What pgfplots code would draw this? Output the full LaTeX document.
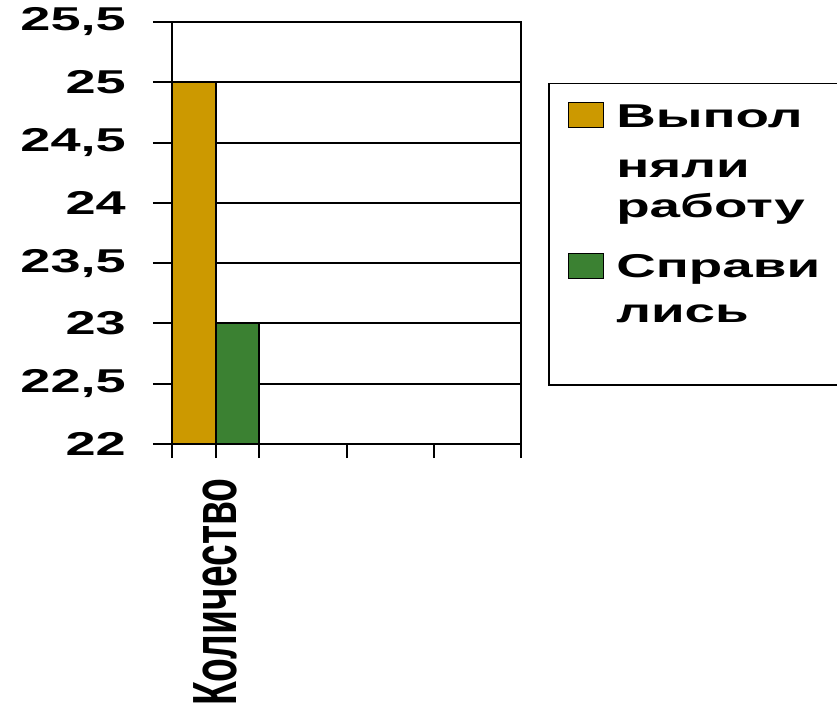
\documentclass[border=0pt]{standalone}
\usepackage{pgfplots}
\pgfplotsset{compat=1.18}
\usepackage{fontspec}
\setmainfont{Liberation Sans}
\usepackage{graphicx}

\definecolor{barorange}{HTML}{CC9900}
\definecolor{bargreen}{HTML}{3B8132}

% one legend line: stretched text with a strut of the given height
\newcommand{\lt}[2]{\scalebox{1.66}[1]{#1}\rule{0pt}{#2}}

\begin{document}
\begin{tikzpicture}
\begin{axis}[
    at={(0,0)}, anchor=south west,
    scale only axis,
    width=349pt, height=422pt,
    xmin=0, xmax=4,
    ymin=22, ymax=25.5,
    ytick={22,22.5,...,25.5},
    xtick={0,1,2,3,4},
    xticklabels={},
    extra x ticks={0.5},
    extra x tick labels={\scalebox{1}[1.6]{Количество}},
    extra x tick style={major tick length=0pt, grid=none,
        xticklabel style={yshift=-31pt, rotate=90, anchor=east,
            font=\fontsize{39}{44}\selectfont\bfseries}},
    xtick pos=bottom, ytick pos=left,
    tick align=outside,
    major tick length=19pt,
    xtick style={/pgfplots/major tick length=14pt},
    tick style={black, line width=2pt},
    axis line style={black, line width=2pt},
    ymajorgrids,
    grid style={black, line width=2pt},
    /pgf/number format/assume math mode=true,
    /pgf/number format/use comma,
    /pgf/number format/1000 sep={},
    yticklabel={\scalebox{1.64}[1]{\pgfmathprintnumber{\tick}}},
    yticklabel style={font=\fontsize{33}{38}\selectfont\bfseries, inner sep=0pt, xshift=-27pt},
    legend style={at={(1.0774,0.8555)}, anchor=north west, draw=black,
        line width=1.5pt, inner xsep=19pt, inner ysep=6pt,
        font=\fontsize{33}{38}\selectfont\bfseries,
        row sep=0pt, column sep=12pt, nodes={inner sep=0pt, text depth=0pt}},
    legend cell align=left,
]
\addplot[ybar, bar width=0.5, bar shift=0pt, fill=barorange, draw=black, line width=2pt,
    legend image code/.code={\draw[fill=barorange, draw=black, line width=1.5pt] (0pt,-19pt) rectangle (35pt,6pt);}]
    coordinates {(0.25,25)};
\addlegendentry{\lt{Выпол}{38pt}}
\addlegendimage{empty legend}
\addlegendentry{\lt{няли}{49pt}}
\addlegendimage{empty legend}
\addlegendentry{\makebox[230pt][l]{\lt{работу}{40pt}}}
\addplot[ybar, bar width=0.5, bar shift=0pt, fill=bargreen, draw=black, line width=2pt,
    legend image code/.code={\draw[fill=bargreen, draw=black, line width=1.5pt] (0pt,-31pt) rectangle (35pt,-6pt);}]
    coordinates {(0.75,23)};
\addlegendentry{\lt{Справи}{60pt}}
\addlegendimage{empty legend}
\addlegendentry{\lt{лись}{43pt}}
\addlegendimage{empty legend}
\addlegendentry{\rule{0pt}{57pt}}
\end{axis}
\pgfresetboundingbox
\path (-172pt,-264pt) rectangle (665pt,444pt);
\end{tikzpicture}
\end{document}
